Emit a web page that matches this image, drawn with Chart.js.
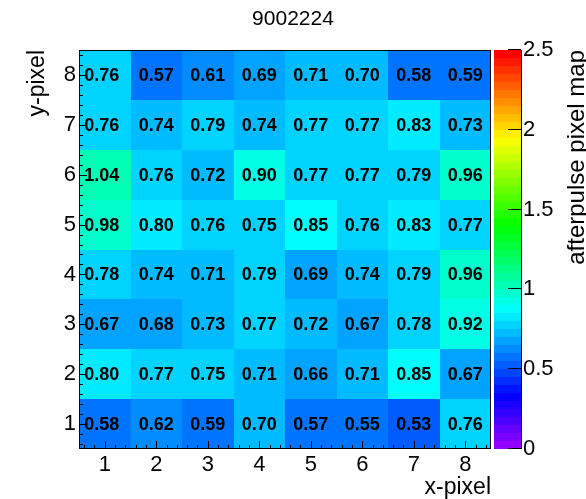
<!DOCTYPE html>
<html><head><meta charset="utf-8">
<script src="https://cdn.jsdelivr.net/npm/chart.js@4"></script>
<style>html,body{margin:0;padding:0;background:#fff}canvas{display:block}</style>
</head><body>
<canvas id="c" width="586" height="499"></canvas>
<script>
// ---- data ----
const xPixels = [1, 2, 3, 4, 5, 6, 7, 8];
const yPixels = [1, 2, 3, 4, 5, 6, 7, 8];
const row1 = [0.58, 0.62, 0.59, 0.70, 0.57, 0.55, 0.53, 0.76];
const row2 = [0.80, 0.77, 0.75, 0.71, 0.66, 0.71, 0.85, 0.67];
const row3 = [0.67, 0.68, 0.73, 0.77, 0.72, 0.67, 0.78, 0.92];
const row4 = [0.78, 0.74, 0.71, 0.79, 0.69, 0.74, 0.79, 0.96];
const row5 = [0.98, 0.80, 0.76, 0.75, 0.85, 0.76, 0.83, 0.77];
const row6 = [1.04, 0.76, 0.72, 0.90, 0.77, 0.77, 0.79, 0.96];
const row7 = [0.76, 0.74, 0.79, 0.74, 0.77, 0.77, 0.83, 0.73];
const row8 = [0.76, 0.57, 0.61, 0.69, 0.71, 0.70, 0.58, 0.59];
const rows = [row1, row2, row3, row4, row5, row6, row7, row8];
const zTicks = [0, 0.5, 1, 1.5, 2, 2.5];
const zMin = 0, zMax = 2.5, nLevels = 50;
const titleText = '9002224';
const xTitle = 'x-pixel', yTitle = 'y-pixel', zTitle = 'afterpulse pixel map';

const FONT = '"Liberation Sans", Arial, Helvetica, sans-serif';

// ROOT "pretty" palette (violet -> red), 50 levels
function hls2rgb(h, l, s) {
  const c = (1 - Math.abs(2 * l - 1)) * s, hp = h / 60, x = c * (1 - Math.abs(hp % 2 - 1));
  let r = 0, g = 0, b = 0;
  if (hp < 1) { r = c; g = x; } else if (hp < 2) { r = x; g = c; } else if (hp < 3) { g = c; b = x; }
  else if (hp < 4) { g = x; b = c; } else if (hp < 5) { r = x; b = c; } else { r = c; b = x; }
  const m = l - c / 2;
  return 'rgb(' + Math.round((r + m) * 255) + ',' + Math.round((g + m) * 255) + ',' + Math.round((b + m) * 255) + ')';
}
const palette = [];
for (let i = 0; i < nLevels - 1; i++) palette.push(hls2rgb(280 - (i + 1) * (280 / nLevels), 0.5, 1));
palette.push('rgb(255,0,0)');
function colorFor(v) {
  let idx = Math.floor(0.01 + (v - zMin) * nLevels / (zMax - zMin));
  return palette[Math.max(0, Math.min(nLevels - 1, idx))];
}

const points = [];
rows.forEach((row, ri) => row.forEach((v, ci) => points.push({ x: xPixels[ci], y: yPixels[ri], v })));

const heatPlugin = {
  id: 'heat',
  beforeDatasetsDraw(chart) {
    const { ctx, chartArea: a, scales: { x, y, z } } = chart;
    ctx.save();
    // cells
    points.forEach(p => {
      const L = Math.round(x.getPixelForValue(p.x - 0.5)), R = Math.round(x.getPixelForValue(p.x + 0.5));
      const T = Math.round(y.getPixelForValue(p.y + 0.5)), B = Math.round(y.getPixelForValue(p.y - 0.5));
      ctx.fillStyle = colorFor(p.v);
      ctx.fillRect(L, T, R - L, B - T);
    });
    // cell texts
    ctx.fillStyle = '#000';
    ctx.font = 'bold 18px ' + FONT;
    ctx.textAlign = 'center';
    ctx.textBaseline = 'middle';
    points.forEach(p => {
      const dx = p.x === 1 ? -3 : 0;
      ctx.fillText(p.v.toFixed(2), x.getPixelForValue(p.x) + dx, y.getPixelForValue(p.y) + 1);
    });
    // frame
    ctx.strokeStyle = '#000';
    ctx.lineWidth = 1;
    ctx.strokeRect(a.left + 0.5, a.top + 0.5, a.right - a.left - 1, a.bottom - a.top - 1);
    // axis ticks (major every 1, minor every 0.2)
    ctx.beginPath();
    for (let k = 3; k <= 42; k++) {
      const t = k / 5, len = (k % 5 === 0) ? 8 : 4;
      const px = Math.round(x.getPixelForValue(t)) + 0.5;
      ctx.moveTo(px, a.bottom); ctx.lineTo(px, a.bottom - len);
      const py = Math.round(y.getPixelForValue(t)) + 0.5;
      ctx.moveTo(a.left, py); ctx.lineTo(a.left + len, py);
    }
    ctx.stroke();
    // palette
    const pL = a.right + 3, pR = a.right + 30;
    for (let i = 0; i < nLevels; i++) {
      const z0 = zMin + i * (zMax - zMin) / nLevels, z1 = zMin + (i + 1) * (zMax - zMin) / nLevels;
      const T = Math.round(z.getPixelForValue(z1)), B = Math.round(z.getPixelForValue(z0));
      ctx.fillStyle = palette[i];
      ctx.fillRect(pL, T, pR - pL, B - T);
    }
    ctx.strokeStyle = '#000';
    ctx.beginPath();
    ctx.moveTo(pR + 0.5, Math.round(z.getPixelForValue(zMax)));
    ctx.lineTo(pR + 0.5, Math.round(z.getPixelForValue(zMin)));
    zTicks.forEach(t => {
      const py = Math.round(z.getPixelForValue(t)) - 0.5;
      ctx.moveTo(pR, py); ctx.lineTo(pR - 13, py);
    });
    ctx.stroke();
    // palette axis title
    ctx.translate(577, a.top);
    ctx.rotate(-Math.PI / 2);
    ctx.font = '24px ' + FONT;
    ctx.fillStyle = '#000';
    ctx.textAlign = 'right';
    ctx.textBaseline = 'middle';
    ctx.fillText(zTitle, 0, 0);
    ctx.restore();
  }
};

new Chart(document.getElementById('c'), {
  type: 'scatter',
  data: { datasets: [{ data: points, pointRadius: 0, pointHoverRadius: 0 }] },
  options: {
    responsive: false,
    devicePixelRatio: 1,
    animation: false,
    events: [],
    layout: { padding: 0 },
    plugins: {
      legend: { display: false },
      tooltip: { enabled: false },
      title: {
        display: true, text: titleText, color: '#000',
        font: { family: FONT, size: 21, weight: 'normal', lineHeight: 1.2 },
        padding: { top: 7, bottom: 17.8 }
      }
    },
    scales: {
      x: {
        type: 'linear', position: 'bottom', min: 0.5, max: 8.5,
        grid: { display: false, drawTicks: false }, border: { display: false },
        afterBuildTicks: s => { s.ticks = xPixels.map(v => ({ value: v })); },
        afterFit: s => { s.height = 50; },
        ticks: { autoSkip: false, maxRotation: 0, color: '#000', padding: 3, font: { family: FONT, size: 22 } },
        title: { display: true, text: xTitle, align: 'end', color: '#000', padding: { top: 0, bottom: 0 }, font: { family: FONT, size: 23, lineHeight: 1 } }
      },
      y: {
        type: 'linear', position: 'left', min: 0.5, max: 8.5,
        grid: { display: false, drawTicks: false }, border: { display: false },
        afterBuildTicks: s => { s.ticks = yPixels.map(v => ({ value: v })); },
        afterFit: s => { s.width = 79; },
        ticks: { autoSkip: false, color: '#000', padding: 3, font: { family: FONT, size: 22 } },
        title: { display: true, text: yTitle, align: 'end', color: '#000', padding: { top: 24, bottom: 0 }, font: { family: FONT, size: 23 } }
      },
      z: {
        type: 'linear', position: 'right', min: zMin, max: zMax,
        grid: { display: false, drawTicks: false }, border: { display: false },
        afterBuildTicks: s => { s.ticks = zTicks.map(v => ({ value: v })); },
        afterFit: s => { s.width = 95; },
        ticks: { autoSkip: false, color: '#000', padding: 32, font: { family: FONT, size: 22 }, callback: v => String(v) }
      }
    }
  },
  plugins: [heatPlugin]
});
</script>
</body></html>
